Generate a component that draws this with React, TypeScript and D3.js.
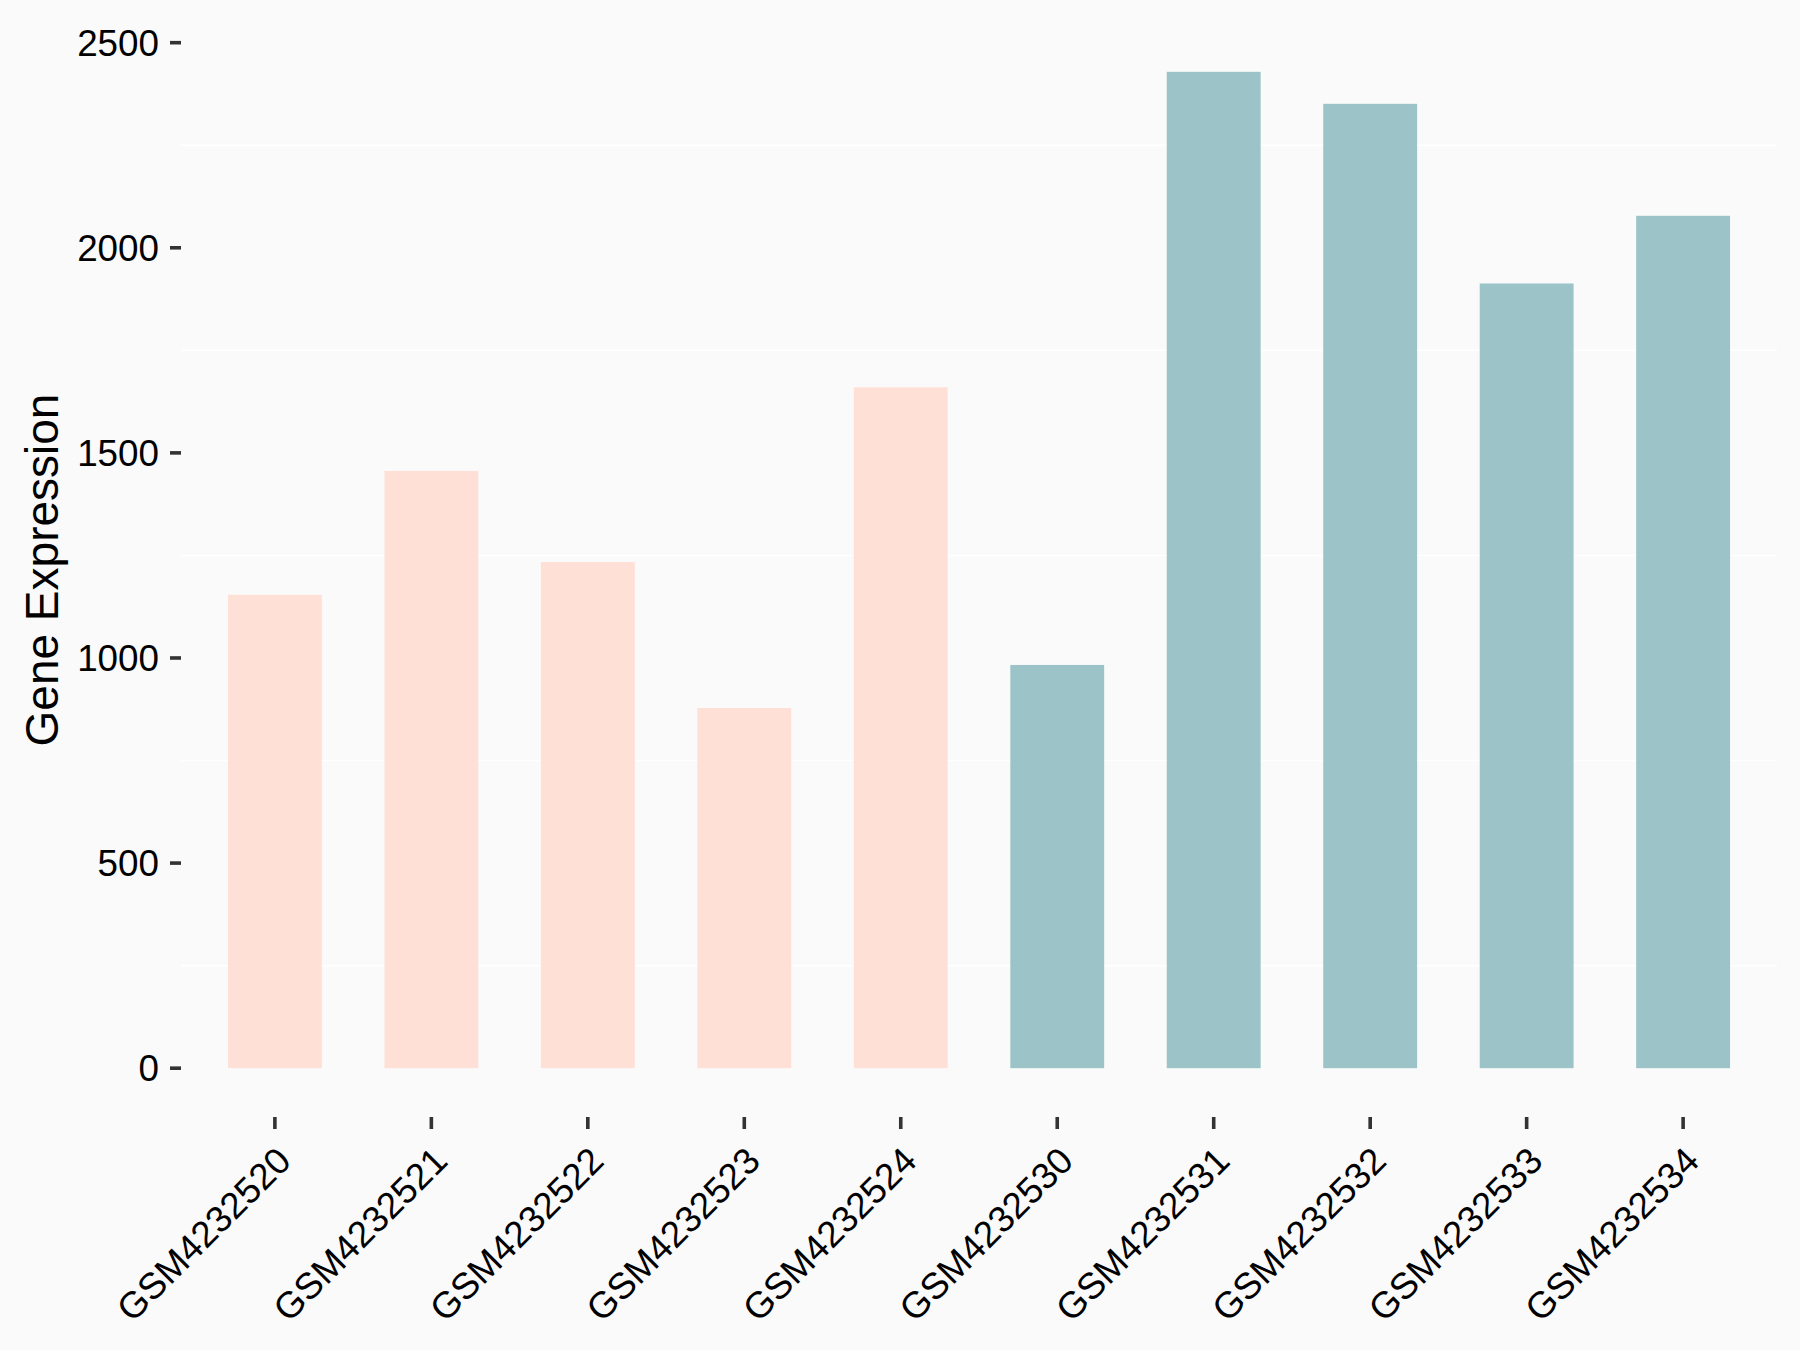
import React from "react";
import * as d3 from "d3";

const samples = [
  "GSM4232520", "GSM4232521", "GSM4232522", "GSM4232523", "GSM4232524",
  "GSM4232530", "GSM4232531", "GSM4232532", "GSM4232533", "GSM4232534",
];
const values = [1154, 1456, 1234, 878, 1660, 983, 2429, 2351, 1913, 2078];
const groups = ["A", "A", "A", "A", "A", "B", "B", "B", "B", "B"];
const yTicks = [0, 500, 1000, 1500, 2000, 2500];
const minorTicks = [250, 750, 1250, 1750, 2250];
const groupColors: Record<string, string> = { A: "#FFE0D6", B: "#9CC4C8" };

const W = 1800;
const H = 1350;
const panel = { left: 181, right: 1777, top: 22, bottom: 1118 };
const FONT = "'Liberation Sans', Arial, sans-serif";

export default function App() {
  const maxV = d3.max(values) as number;
  const pad = maxV * 0.05;
  const y = d3.scaleLinear().domain([-pad, maxV + pad]).range([panel.bottom, panel.top]);
  const x = d3
    .scaleBand<string>()
    .domain(samples)
    .range([panel.left, panel.right])
    .paddingInner(0.4)
    .paddingOuter(0.3);
  const bw = x.bandwidth();

  return (
    <svg
      width={W}
      height={H}
      style={{ position: "absolute", left: 0, top: 0, display: "block" }}
      fontFamily={FONT}
    >
      <rect x={0} y={0} width={W} height={H} fill="#FAFAFA" />
      {minorTicks.map((t) => (
        <line
          key={"m" + t}
          x1={panel.left}
          x2={panel.right}
          y1={y(t)}
          y2={y(t)}
          stroke="#FFFFFF"
          strokeWidth={1.6}
        />
      ))}
      {samples.map((s, i) => (
        <rect
          key={s}
          x={x(s)}
          y={y(values[i])}
          width={bw}
          height={y(0) - y(values[i])}
          fill={groupColors[groups[i]]}
        />
      ))}
      {yTicks.map((t) => (
        <g key={"y" + t}>
          <line x1={170} x2={panel.left} y1={y(t)} y2={y(t)} stroke="#333333" strokeWidth={3.6} />
          <text
            x={159}
            y={y(t)}
            dy="0.36em"
            textAnchor="end"
            fontSize={36.8}
            fill="#000000"
          >
            {t}
          </text>
        </g>
      ))}
      {samples.map((s) => {
        const cx = (x(s) as number) + bw / 2;
        return (
          <g key={"x" + s}>
            <line
              x1={cx}
              x2={cx}
              y1={panel.bottom - 1}
              y2={panel.bottom + 11}
              stroke="#333333"
              strokeWidth={3.6}
            />
            <text
              transform={`translate(${cx + 18},${1163}) rotate(-45)`}
              textAnchor="end"
              fontSize={36.8}
              fill="#000000"
            >
              {s}
            </text>
          </g>
        );
      })}
      <text
        transform={`translate(${58},${(panel.top + panel.bottom) / 2}) rotate(-90)`}
        textAnchor="middle"
        fontSize={46}
        fill="#000000"
      >
        Gene Expression
      </text>
    </svg>
  );
}
